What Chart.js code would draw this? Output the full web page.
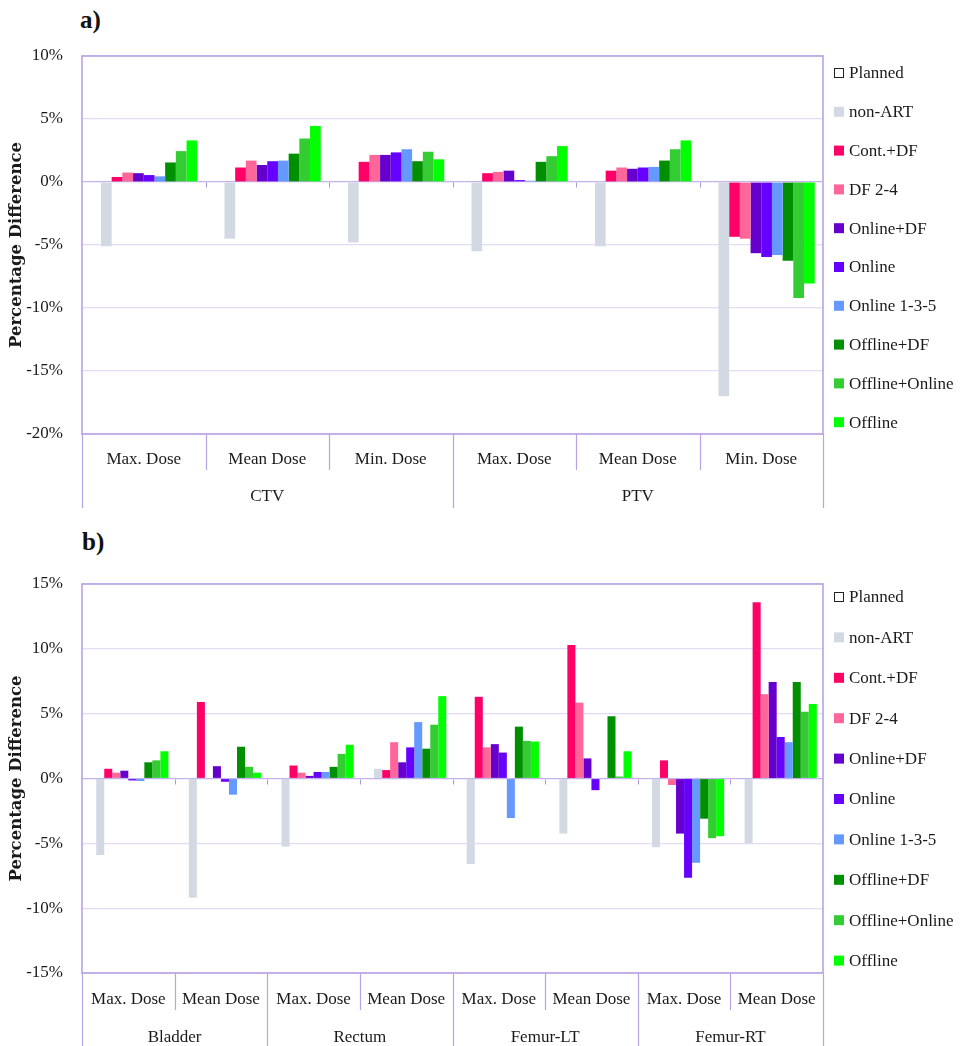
<!DOCTYPE html>
<html>
<head>
<meta charset="utf-8">
<script src="https://cdn.jsdelivr.net/npm/chart.js@4.4.1/dist/chart.umd.min.js"></script>
<style>
  html, body { margin: 0; padding: 0; background: #ffffff; }
  .panel { position: absolute; left: 0; width: 963px; }
  #panelA { top: 0; height: 520px; }
  #panelB { top: 520px; height: 526px; }
  .tag { position: absolute; font: bold 25px "Liberation Serif", serif; color: #111; }
</style>
</head>
<body>
<div class="tag" style="left:80px;top:6px;">a)</div>
<div class="tag" style="left:82px;top:528px;">b)</div>
<div class="panel" id="panelA"><canvas id="chartA" width="963" height="520"></canvas></div>
<div class="panel" id="panelB"><canvas id="chartB" width="963" height="526"></canvas></div>
<script>
// ---- series ----
const seriesNames = ['Planned', 'non-ART', 'Cont.+DF', 'DF 2-4', 'Online+DF', 'Online',
                     'Online 1-3-5', 'Offline+DF', 'Offline+Online', 'Offline'];

// ---- panel a: CTV / PTV ----
const doseLabelsA = ['Max. Dose', 'Mean Dose', 'Min. Dose', 'Max. Dose', 'Mean Dose', 'Min. Dose'];
const structuresA = ['CTV', 'PTV'];
const plannedA       = [0, 0, 0, 0, 0, 0];
const nonArtA        = [-5.1, -4.5, -4.8, -5.5, -5.1, -17.0];
const contDfA        = [0.4, 1.15, 1.6, 0.7, 0.9, -4.35];
const df24A          = [0.75, 1.7, 2.15, 0.8, 1.15, -4.5];
const onlineDfA      = [0.7, 1.35, 2.15, 0.9, 1.05, -5.65];
const onlineA        = [0.55, 1.65, 2.35, 0.15, 1.15, -5.95];
const online135A     = [0.45, 1.7, 2.6, 0.1, 1.2, -5.8];
const offlineDfA     = [1.55, 2.25, 1.65, 1.6, 1.7, -6.25];
const offlineOnlineA = [2.45, 3.45, 2.4, 2.05, 2.6, -9.2];
const offlineA       = [3.3, 4.45, 1.8, 2.85, 3.3, -8.05];
const yTicksA = [-20, -15, -10, -5, 0, 5, 10];

// ---- panel b: organs at risk ----
const doseLabelsB = ['Max. Dose', 'Mean Dose', 'Max. Dose', 'Mean Dose',
                     'Max. Dose', 'Mean Dose', 'Max. Dose', 'Mean Dose'];
const structuresB = ['Bladder', 'Rectum', 'Femur-LT', 'Femur-RT'];
const plannedB       = [0, 0, 0, 0, 0, 0, 0, 0];
const nonArtB        = [-5.9, -9.2, -5.25, 0.75, -6.6, -4.25, -5.3, -5.0];
const contDfB        = [0.75, 5.9, 1.0, 0.65, 6.3, 10.3, 1.4, 13.6];
const df24B          = [0.45, 0.05, 0.45, 2.8, 2.4, 5.85, -0.5, 6.5];
const onlineDfB      = [0.6, 0.95, 0.2, 1.25, 2.65, 1.55, -4.25, 7.45];
const onlineB        = [-0.15, -0.25, 0.5, 2.4, 2.0, -0.9, -7.65, 3.2];
const online135B     = [-0.2, -1.25, 0.5, 4.35, -3.05, 0.05, -6.5, 2.8];
const offlineDfB     = [1.25, 2.45, 0.9, 2.3, 4.0, 4.8, -3.1, 7.45];
const offlineOnlineB = [1.4, 0.9, 1.9, 4.15, 2.9, 0.15, -4.6, 5.15];
const offlineB       = [2.1, 0.45, 2.6, 6.35, 2.85, 2.1, -4.45, 5.75];
const yTicksB = [-15, -10, -5, 0, 5, 10, 15];

// ---- styling ----
const seriesColors = ['#ffffff', '#d3d9e3', '#ff0066', '#ff6699', '#6600cc', '#6600ff',
                      '#6699ff', '#008f00', '#33cc33', '#00ff00'];
const FONT = '"Liberation Serif", "Times New Roman", serif';
const TITLE_FONT = '"DejaVu Serif", serif';
const TEXT = '#1a1a1a';
const FRAME = '#b9a2e6';
const GRID = '#e4dbf6';

function buildDatasets(series) {
  return series.map((values, i) => ({
    label: seriesNames[i],
    data: values,
    backgroundColor: seriesColors[i],
    borderWidth: 0,
    categoryPercentage: 0.866,
    barPercentage: 1.0
  }));
}

// Plot frame, zero-line ticks and the two-row category axis
const frameAxisPlugin = {
  id: 'frameAxis',
  afterDraw(chart, args, opts) {
    const ctx = chart.ctx;
    const area = chart.chartArea;
    const x = chart.scales.x;
    const y = chart.scales.y;
    const n = opts.doses.length;
    const per = n / opts.structures.length;
    const step = x.getPixelForValue(1) - x.getPixelForValue(0);
    const bx = i => x.getPixelForValue(i) - step / 2;
    const zeroY = Math.round(y.getPixelForValue(0)) + 0.5;

    ctx.save();
    // small ticks hanging from the zero line
    ctx.strokeStyle = '#a898d4';
    ctx.lineWidth = 1;
    ctx.beginPath();
    for (let i = 1; i < n; i++) {
      const xx = Math.round(bx(i)) + 0.5;
      ctx.moveTo(xx, zeroY);
      ctx.lineTo(xx, zeroY + 5);
    }
    ctx.stroke();

    // frame
    ctx.strokeStyle = FRAME;
    ctx.lineWidth = 1.6;
    ctx.strokeRect(area.left, area.top, area.right - area.left, area.bottom - area.top);

    // separators below the plot
    ctx.lineWidth = 1.2;
    ctx.beginPath();
    for (let i = 0; i <= n; i++) {
      const xx = Math.round(bx(i)) + 0.5;
      const full = (i % per === 0);
      ctx.moveTo(xx, area.bottom);
      ctx.lineTo(xx, area.bottom + (full ? opts.fullLen : opts.subLen));
    }
    ctx.stroke();

    // labels
    ctx.fillStyle = TEXT;
    ctx.font = '17px ' + FONT;
    ctx.textAlign = 'center';
    ctx.textBaseline = 'middle';
    for (let i = 0; i < n; i++) {
      ctx.fillText(opts.doses[i], x.getPixelForValue(i), area.bottom + opts.subY);
    }
    for (let g = 0; g < opts.structures.length; g++) {
      const cx = (bx(g * per) + bx((g + 1) * per)) / 2;
      ctx.fillText(opts.structures[g], cx, area.bottom + opts.groupY);
    }
    ctx.restore();
  }
};

// Legend column on the right
const sideLegendPlugin = {
  id: 'sideLegend',
  afterDraw(chart, args, opts) {
    const ctx = chart.ctx;
    ctx.save();
    ctx.font = '17px ' + FONT;
    ctx.textBaseline = 'middle';
    ctx.textAlign = 'left';
    chart.data.datasets.forEach((ds, i) => {
      const cy = chart.chartArea.top + opts.first + i * opts.gap;
      if (i === 0) {
        ctx.fillStyle = '#ffffff';
        ctx.fillRect(opts.x, cy - 5, 10, 10);
        ctx.strokeStyle = '#222';
        ctx.lineWidth = 1;
        ctx.strokeRect(opts.x + 0.5, cy - 4.5, 9, 9);
      } else {
        ctx.fillStyle = ds.backgroundColor;
        ctx.fillRect(opts.x, cy - 5, 10, 10);
      }
      ctx.fillStyle = TEXT;
      ctx.fillText(ds.label, opts.x + 15, cy + 1);
    });
    ctx.restore();
  }
};

function makeChart(canvasId, doses, structures, series, yTicks, pad, axisOpts, legendOpts) {
  return new Chart(document.getElementById(canvasId), {
    type: 'bar',
    data: { labels: doses, datasets: buildDatasets(series) },
    plugins: [frameAxisPlugin, sideLegendPlugin],
    options: {
      responsive: false,
      animation: false,
      layout: { padding: pad },
      plugins: {
        legend: { display: false },
        tooltip: { enabled: false },
        frameAxis: Object.assign({ doses, structures }, axisOpts),
        sideLegend: legendOpts
      },
      scales: {
        x: { display: false },
        y: {
          min: yTicks[0],
          max: yTicks[yTicks.length - 1],
          afterFit(scale) { scale.width = 79; },
          afterBuildTicks(scale) { scale.ticks = yTicks.map(v => ({ value: v })); },
          ticks: {
            padding: 19,
            color: TEXT,
            font: { family: FONT, size: 17 },
            callback: v => v + '%'
          },
          grid: {
            drawTicks: false,
            lineWidth: 1.2,
            color: c => (c.tick && c.tick.value === 0) ? '#c4b2ea' : GRID
          },
          border: { display: false },
          title: {
            display: true,
            text: 'Percentage Difference',
            color: TEXT,
            font: { family: TITLE_FONT, size: 16.5, weight: 'bold' },
            padding: { top: 4, bottom: 4 }
          }
        }
      }
    }
  });
}

makeChart('chartA', doseLabelsA, structuresA,
  [plannedA, nonArtA, contDfA, df24A, onlineDfA, onlineA, online135A, offlineDfA, offlineOnlineA, offlineA],
  yTicksA,
  { left: 3, top: 56, right: 140, bottom: 86 },
  { subY: 26, groupY: 63, subLen: 36, fullLen: 74 },
  { x: 834, first: 17, gap: 38.8 });

makeChart('chartB', doseLabelsB, structuresB,
  [plannedB, nonArtB, contDfB, df24B, onlineDfB, onlineB, online135B, offlineDfB, offlineOnlineB, offlineB],
  yTicksB,
  { left: 3, top: 64, right: 140, bottom: 73 },
  { subY: 27, groupY: 65, subLen: 37, fullLen: 80 },
  { x: 834, first: 13, gap: 40.4 });
</script>
</body>
</html>
